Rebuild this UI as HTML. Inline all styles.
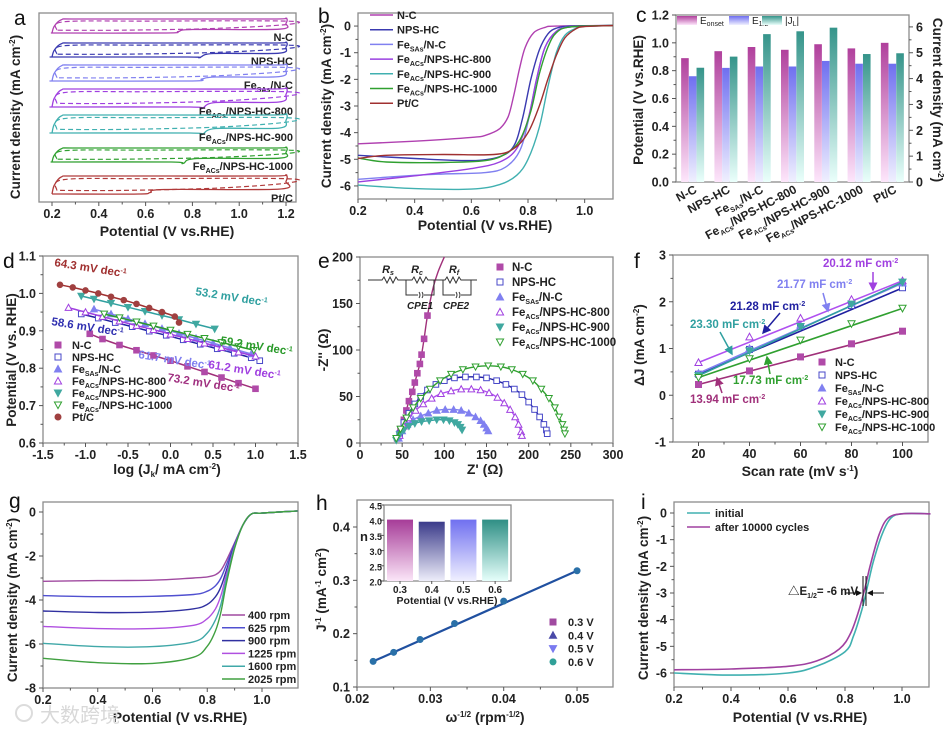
<!DOCTYPE html>
<html><head><meta charset="utf-8"><style>
html,body{margin:0;padding:0;background:#fff;}
svg{display:block;font-family:"Liberation Sans","Noto Sans CJK SC",sans-serif;}
</style></head><body>
<svg id="fig" width="951" height="731" viewBox="0 0 951 731">
<defs>
<linearGradient id="gOn" x1="0" y1="0" x2="0" y2="1"><stop offset="0" stop-color="#b0409c"/><stop offset="1" stop-color="#fde6fb"/></linearGradient>
<linearGradient id="gHalf" x1="0" y1="0" x2="0" y2="1"><stop offset="0" stop-color="#6f6ff0"/><stop offset="1" stop-color="#f0f0ff"/></linearGradient>
<linearGradient id="gJ" x1="0" y1="0" x2="0" y2="1"><stop offset="0" stop-color="#35948a"/><stop offset="1" stop-color="#eafffb"/></linearGradient>
<linearGradient id="gN1" x1="0" y1="0" x2="0" y2="1"><stop offset="0" stop-color="#a63c98"/><stop offset="1" stop-color="#fbe6f8"/></linearGradient>
<linearGradient id="gN2" x1="0" y1="0" x2="0" y2="1"><stop offset="0" stop-color="#3b3b8a"/><stop offset="1" stop-color="#eeeefa"/></linearGradient>
<linearGradient id="gN3" x1="0" y1="0" x2="0" y2="1"><stop offset="0" stop-color="#7070f0"/><stop offset="1" stop-color="#f0f0ff"/></linearGradient>
<linearGradient id="gN4" x1="0" y1="0" x2="0" y2="1"><stop offset="0" stop-color="#2f8f85"/><stop offset="1" stop-color="#e6fffb"/></linearGradient>
<marker id="arr" markerWidth="6" markerHeight="6" refX="5" refY="3" orient="auto"><path d="M0,0 L6,3 L0,6 z" fill="context-stroke"/></marker>
</defs>
</svg>
<script>
// ===== DATA =====
const cvNames=['N-C','NPS-HC','FeSAs/N-C','FeACs/NPS-HC-800','FeACs/NPS-HC-900','FeACs/NPS-HC-1000','Pt/C'];
const cvCenters=[13,37,60,85,111,142,172];
const cvHalf=[7,7,8,9,9,7,9];
const cvDipV=[0.74,0.83,0.84,0.84,0.84,0.76,0.62];
const cvDipDepth=[2,4,2,6,6,5,3];
const cvColors=['#b040b0','#3a3ab0','#8080f0','#a040e0','#40b0b0','#30a030','#b03a3a'];
const bNames=['N-C','NPS-HC','FeSAs/N-C','FeACs/NPS-HC-800','FeACs/NPS-HC-900','FeACs/NPS-HC-1000','Pt/C'];
const bColors=['#b040b0','#3a3ab0','#8080f0','#9a40e0','#40b0b0','#30a030','#a03030'];
const bV=[
[0.2,0.4,0.6,0.65,0.7,0.73,0.75,0.77,0.79,0.82,0.86,0.9,1.1],
[0.2,0.4,0.6,0.7,0.75,0.78,0.81,0.84,0.87,0.9,0.95,1.1],
[0.2,0.4,0.5,0.65,0.72,0.77,0.8,0.83,0.86,0.9,0.95,1.1],
[0.2,0.4,0.6,0.7,0.76,0.8,0.83,0.86,0.9,0.95,1.1],
[0.2,0.4,0.6,0.7,0.76,0.8,0.84,0.87,0.9,0.93,0.97,1.0,1.1],
[0.2,0.3,0.5,0.65,0.72,0.77,0.81,0.84,0.87,0.9,0.95,1.1],
[0.2,0.3,0.5,0.68,0.75,0.8,0.84,0.87,0.9,0.93,0.97,1.0,1.1]];
const bJ=[
[-4.42,-4.32,-4.18,-4.1,-3.85,-3.4,-2.6,-1.6,-0.8,-0.25,-0.05,0,0.02],
[-4.85,-4.97,-5.05,-4.9,-4.5,-3.5,-2.0,-0.9,-0.3,-0.08,0,0.02],
[-5.75,-5.6,-5.55,-5.5,-5.3,-4.7,-3.6,-2.0,-0.8,-0.2,-0.03,0.02],
[-5.85,-5.62,-5.35,-5.1,-4.6,-3.5,-2.0,-0.8,-0.2,-0.03,0.02],
[-5.97,-6.1,-6.12,-5.95,-5.6,-5.0,-3.8,-2.3,-1.0,-0.35,-0.08,-0.01,0.02],
[-4.95,-5.1,-5.12,-5.05,-4.8,-4.3,-3.2,-1.8,-0.8,-0.25,-0.03,0.02],
[-4.97,-4.85,-4.82,-4.82,-4.6,-4.0,-3.0,-2.0,-1.1,-0.45,-0.1,-0.02,0.02]];
const cCats=['N-C','NPS-HC','FeSAs/N-C','FeACs/NPS-HC-800','FeACs/NPS-HC-900','FeACs/NPS-HC-1000','Pt/C'];
const cOnset=[0.89,0.94,0.97,0.95,0.99,0.96,1.00];
const cHalf=[0.76,0.82,0.83,0.83,0.87,0.85,0.85];
const cJL=[4.42,4.85,5.72,5.83,5.97,4.95,4.98];
const dX=[
[-0.95,-0.8,-0.6,-0.4,-0.2,0,0.2,0.4,0.6,0.8,1.0],
[-1.05,-0.85,-0.65,-0.45,-0.25,-0.05,0.15,0.35,0.55,0.75,0.95,1.05],
[-0.9,-0.7,-0.5,-0.3,-0.1,0.1,0.3,0.5,0.7,0.95],
[-1.2,-1.0,-0.8,-0.6,-0.4,-0.2,0,0.2,0.4,0.6,0.8,1.0],
[-1.05,-0.9,-0.7,-0.5,-0.3,-0.1,0.1,0.3,0.52],
[-0.78,-0.6,-0.4,-0.2,0,0.2,0.4,0.6,0.8,0.98],
[-1.3,-1.15,-1.0,-0.85,-0.7,-0.55,-0.4,-0.25,-0.1,0.05,0.1]];
const dY=[
[0.892,0.878,0.862,0.848,0.834,0.820,0.805,0.790,0.775,0.760,0.745],
[0.945,0.934,0.922,0.911,0.899,0.888,0.876,0.864,0.852,0.840,0.828,0.820],
[0.958,0.945,0.932,0.919,0.906,0.893,0.880,0.867,0.854,0.838],
[0.962,0.950,0.938,0.926,0.914,0.903,0.891,0.879,0.867,0.855,0.843,0.832],
[0.993,0.985,0.974,0.963,0.952,0.941,0.930,0.918,0.905],
[0.945,0.935,0.924,0.913,0.902,0.891,0.880,0.869,0.858,0.848],
[1.023,1.016,1.008,1.000,0.991,0.982,0.972,0.961,0.950,0.938,0.922]];
const dMarkers=['sqF','sqO','triF','triO','dtriF','dtriO','circ'];
const dColors=['#b04aa8','#4848c8','#8080f0','#a040e0','#40a8a0','#30a030','#a04040'];
const dLineColors=['#a0307a','#2020a0','#8080f0','#a040e0','#30a0a0','#2a9a2a','#a03030'];
const eX=[
[44,48,52,55,58,62,65,68,71,73,76,80,87,93,100],
[47,52,58,65,72,80,90,100,112,125,138,150,162,173,183,192,200,207,213,218,221,222],
[46,50,56,63,72,81,91,101,111,120,129,137,143,147,150,152],
[47,52,58,66,75,85,96,108,120,132,143,153,163,171,178,184,188,191,192],
[43,47,52,58,65,73,82,91,99,106,112,116,119,121],
[43,48,55,63,72,83,95,108,122,137,152,167,180,193,205,215,224,231,236,240,242,243]];
const eY=[
[5,15,25,35,45,55,65,75,85,95,112,137,168,185,200],
[10,22,32,42,50,57,63,67,70,71,71,70,67,63,58,52,44,36,28,20,14,10],
[5,13,20,25,29,32,35,36,36,35,32,28,24,20,16,13],
[8,18,27,35,42,48,53,56,58,58,57,54,49,43,36,28,20,12,8],
[3,9,14,18,21,23,24,25,25,24,22,20,17,14],
[5,15,27,38,48,58,67,74,79,82,83,82,79,74,67,58,48,38,28,20,14,10]];
const fScan=[20,40,60,80,100];
const fDJ=[
[0.23,0.52,0.82,1.10,1.37],
[0.45,0.98,1.47,1.92,2.30],
[0.47,1.00,1.50,1.97,2.40],
[0.70,1.25,1.65,2.05,2.45],
[0.42,0.95,1.47,1.95,2.42],
[0.38,0.78,1.18,1.53,1.86]];
const fLineColors=['#a0307a','#2020a0','#8080f0','#b050f0','#30a0a0','#30a030'];
const fMarkColors=['#b04aa8','#4848c8','#8080f0','#a040e0','#40a8a0','#30a030'];
const fMarkers=['sqF','sqO','triF','triO','dtriF','dtriO'];
const gRpm=['400 rpm','625 rpm','900 rpm','1225 rpm','1600 rpm','2025 rpm'];
const gColors=['#a04aa0','#5050d0','#3030a0','#b050e0','#40a8a8','#40a040'];
const gV=[0.2,0.4,0.6,0.75,0.8,0.83,0.85,0.87,0.9,0.93,0.96,1.0,1.13];
const gJ=[
[-3.15,-3.12,-3.1,-3.0,-2.95,-2.85,-2.65,-2.2,-1.4,-0.6,-0.1,-0.05,0.05],
[-3.8,-3.85,-3.83,-3.75,-3.6,-3.35,-3.0,-2.4,-1.45,-0.6,-0.1,-0.05,0.05],
[-4.5,-4.57,-4.55,-4.4,-4.2,-3.85,-3.4,-2.65,-1.5,-0.6,-0.1,-0.05,0.05],
[-5.2,-5.3,-5.3,-5.15,-4.85,-4.4,-3.8,-2.85,-1.55,-0.6,-0.1,-0.05,0.05],
[-5.97,-6.12,-6.12,-5.9,-5.5,-4.9,-4.2,-3.05,-1.6,-0.6,-0.1,-0.05,0.05],
[-6.65,-6.85,-6.88,-6.6,-6.1,-5.4,-4.55,-3.25,-1.65,-0.6,-0.1,-0.05,0.05]];
const hW=[0.0222,0.025,0.0286,0.0333,0.04,0.05];
const hJinv=[0.148,0.165,0.189,0.219,0.261,0.318];
const hInsetCats=['0.3','0.4','0.5','0.6'];
const hInsetN=[4.02,3.95,4.02,4.02];
const iV1=[0.2,0.4,0.6,0.7,0.8,0.83,0.86,0.88,0.9,0.93,0.96,1.0,1.1];
const iJ1=[-6.0,-6.08,-6.0,-5.75,-5.2,-4.6,-3.6,-2.7,-1.8,-0.8,-0.2,-0.03,-0.03];
const iV2=[0.2,0.4,0.6,0.7,0.78,0.82,0.85,0.87,0.89,0.92,0.95,1.0,1.1];
const iJ2=[-5.88,-5.85,-5.75,-5.55,-5.1,-4.5,-3.6,-2.8,-1.9,-0.8,-0.2,-0.03,-0.03];

// ===== HELPERS =====
const NS='http://www.w3.org/2000/svg';
const svg=document.getElementById('fig');
function mk(tag,attrs,parent){const e=document.createElementNS(NS,tag);for(const k in attrs)e.setAttribute(k,attrs[k]);(parent||svg).appendChild(e);return e;}
function T(x,y,html,o,parent){o=o||{};const e=mk('text',{x:x,y:y,'font-size':o.s||12,'font-weight':o.w||'bold','text-anchor':o.a||'middle',fill:o.c||'#222'},parent);if(o.r)e.setAttribute('transform','rotate('+o.r+' '+x+' '+y+')');if(o.i)e.setAttribute('font-style','italic');e.innerHTML=html;return e;}
function FE(s,rest){return 'Fe<tspan font-size="7" dy="3">'+s+'</tspan><tspan dy="-3">'+rest+'</tspan>';}
function fmtName(n){if(n.startsWith('FeSAs'))return FE('SAs',n.slice(5));if(n.startsWith('FeACs'))return FE('ACs',n.slice(5));return n;}
const SUPM2='<tspan font-size="8" dy="-5">-2</tspan><tspan dy="5">)</tspan>';
function panel(name,x0,y0,x1,y1,xd,yd){
  const g=mk('g',{});
  
  
  const sx=v=>x0+(v-xd[0])/(xd[1]-xd[0])*(x1-x0);
  const sy=v=>y1-(v-yd[0])/(yd[1]-yd[0])*(y1-y0);
  const f=mk('rect',{x:x0,y:y0,width:x1-x0,height:y1-y0,fill:'none',stroke:'#8c8c8c','stroke-width':1.3},g);
  
  
  return {g,sx,sy,x0,y0,x1,y1};
}
function xticks(P,vals,labs,minor,fs){
  vals.forEach((v,i)=>{const x=P.sx(v);mk('line',{x1:x,x2:x,y1:P.y1,y2:P.y1+4,stroke:'#555'},P.g);
    const t=T(x,P.y1+16,labs[i],{s:fs||12.5},P.g);
    
    });
  if(minor)for(let i=0;i<vals.length-1;i++){const x=(P.sx(vals[i])+P.sx(vals[i+1]))/2;mk('line',{x1:x,x2:x,y1:P.y1,y2:P.y1+2.5,stroke:'#555'},P.g);}
}
function yticks(P,sy,vals,labs,right,minor,fs,gap){
  const xe=right?P.x1:P.x0, d=right?1:-1, gp=gap||7;
  vals.forEach((v,i)=>{const y=sy(v);mk('line',{x1:xe,x2:xe+4*d,y1:y,y2:y,stroke:'#555'},P.g);
    const t=T(xe+gp*d,y+4.5,labs[i],{s:fs||12.5,a:right?'start':'end'},P.g);
    
    });
  if(minor)for(let i=0;i<vals.length-1;i++){const y=(sy(vals[i])+sy(vals[i+1]))/2;mk('line',{x1:xe,x2:xe+2.5*d,y1:y,y2:y,stroke:'#555'},P.g);}
}
function smooth(pts){
  let d='M'+pts[0][0].toFixed(1)+','+pts[0][1].toFixed(1);
  for(let i=0;i<pts.length-1;i++){const p0=pts[i-1]||pts[i],p1=pts[i],p2=pts[i+1],p3=pts[i+2]||p2;
    const c1=[p1[0]+(p2[0]-p0[0])/6,p1[1]+(p2[1]-p0[1])/6],c2=[p2[0]-(p3[0]-p1[0])/6,p2[1]-(p3[1]-p1[1])/6];
    d+=' C'+c1[0].toFixed(1)+','+c1[1].toFixed(1)+' '+c2[0].toFixed(1)+','+c2[1].toFixed(1)+' '+p2[0].toFixed(1)+','+p2[1].toFixed(1);}
  return d;
}
function curve(P,xs,ys,color,w,dash){const pts=xs.map((x,i)=>[P.sx(x),P.sy(ys[i])]);
  const a={d:smooth(pts),fill:'none',stroke:color,'stroke-width':w||1.4};if(dash)a['stroke-dasharray']=dash;return mk('path',a,P.g);}
function marker(parent,x,y,type,color,r){r=r||3;let e;
  const fill=type.endsWith('F')||type==='circ'?color:'#fff';
  if(type.startsWith('sq'))e=mk('rect',{x:x-r,y:y-r,width:2*r,height:2*r,fill:fill,stroke:color,'stroke-width':1},parent);
  else if(type.startsWith('tri'))e=mk('path',{d:'M'+x+','+(y-r*1.2)+' L'+(x+r*1.2)+','+(y+r)+' L'+(x-r*1.2)+','+(y+r)+'Z',fill:fill,stroke:color,'stroke-width':1},parent);
  else if(type.startsWith('dtri'))e=mk('path',{d:'M'+x+','+(y+r*1.2)+' L'+(x+r*1.2)+','+(y-r)+' L'+(x-r*1.2)+','+(y-r)+'Z',fill:fill,stroke:color,'stroke-width':1},parent);
  else e=mk('circle',{cx:x,cy:y,r:r,fill:fill,stroke:color,'stroke-width':1},parent);
  return e;}
function letter(ch,x,y){const t=T(x,y,ch,{s:21,w:'normal',a:'start',c:'#111'});
  
  }
function title(P,x,y,html,rot,fs){const t=T(x,y,html,{s:fs||(rot?13.5:14),r:rot},P.g);
  
  return t;}
const VT=[0.2,0.4,0.6,0.8,1.0,1.2];

// ===== PANEL A =====
{const P=panel('panel-a-cv',39,13,296,202,[0.1444,1.2427],[189,0]);
 xticks(P,VT,['0.2','0.4','0.6','0.8','1.0','1.2'],true);
 cvNames.forEach((n,i)=>{const c=cvCenters[i],h=cvHalf[i],dv=cvDipV[i],dd=cvDipDepth[i];
   const up=[[0.2,c+h],[0.21,c],[0.24,c-0.9*h],[0.3,c-h],[0.7,c-h],[1.15,c-h],[1.2,c-1.1*h]];
   const lo=[[1.2,c-0.4*h],[1.17,c+0.45*h],[dv+0.06,c+0.5*h],[dv,c+0.5*h+dd],[dv-0.05,c+h],[0.25,c+h],[0.2,c+h]];
   const all=up.concat(lo);
   const p=curve(P,all.map(q=>q[0]),all.map(q=>q[1]),cvColors[i],1.3);
   
   
   const du=[[0.22,c+0.6*h],[0.25,c-0.6*h],[0.6,c-0.7*h],[1.2,c-0.7*h],[1.2,c-0.2*h],[0.9,c+0.35*h],[0.5,c+0.6*h],[0.22,c+0.6*h]];
   const q=curve(P,du.map(z=>z[0]),du.map(z=>z[1]),cvColors[i],1.2,'5,3');
   
   
   const t=T(293,13+c+h+8,fmtName(n),{s:11,a:'end'},P.g);
   
   });
 title(P,167,236,'Potential (V vs.RHE)');
 title(P,20,117,'Current density (mA cm'+SUPM2,-90);
 letter('a',14,25);}

// ===== PANEL B =====
{const P=panel('panel-b-lsv',358,13,613,199,[0.2,1.1],[-6.49,0.49]);
 xticks(P,[0.2,0.4,0.6,0.8,1.0],['0.2','0.4','0.6','0.8','1.0'],true);
 yticks(P,P.sy,[0,-1,-2,-3,-4,-5,-6],['0','-1','-2','-3','-4','-5','-6'],false,true);
 bNames.forEach((n,i)=>{const p=curve(P,bV[i],bJ[i],bColors[i],1.4);
   
   
   const y=15+14.7*i;
   const l=mk('line',{x1:370,x2:393,y1:y,y2:y,stroke:bColors[i],'stroke-width':1.5},P.g);
   
   
   const t=T(397,y+4,fmtName(n),{s:11,a:'start'},P.g);
   
   });
 title(P,485,230,'Potential (V vs.RHE)');
 title(P,331,106,'Current density (mA cm'+SUPM2,-90);
 letter('b',318,23);}

// ===== PANEL C =====
{const P=panel('panel-c-bars',676,15,909,182,[0,7],[0,1.2]);
 const syR=v=>182-v/6.46*167;
 yticks(P,P.sy,[0,0.2,0.4,0.6,0.8,1.0,1.2],['0.0','0.2','0.4','0.6','0.8','1.0','1.2'],false,true);
 yticks(P,syR,[0,1,2,3,4,5,6],['0','1','2','3','4','5','6'],true,true);
 cCats.forEach((n,i)=>{const cx=P.sx(i+0.5);
   const b1=mk('rect',{x:cx-11.5,y:P.sy(cOnset[i]),width:7.6,height:182-P.sy(cOnset[i]),fill:'url(#gOn)'},P.g);
   
   
   const b2=mk('rect',{x:cx-3.8,y:P.sy(cHalf[i]),width:7.6,height:182-P.sy(cHalf[i]),fill:'url(#gHalf)'},P.g);
   
   
   const b3=mk('rect',{x:cx+3.9,y:syR(cJL[i]),width:7.6,height:182-syR(cJL[i]),fill:'url(#gJ)'},P.g);
   
   
   const t=T(cx+5,192,fmtName(n),{s:12,a:'end',r:-28},P.g);
   
   });
 const lg=[['url(#gOn)',677,'E<tspan font-size="7" dy="2">onset</tspan>'],['url(#gHalf)',729,'E<tspan font-size="7" dy="2">1/2</tspan>'],['url(#gJ)',762,'|J<tspan font-size="7" dy="2">L</tspan><tspan dy="-2">|</tspan>']];
 lg.forEach(q=>{const r=mk('rect',{x:q[1],y:16,width:20,height:9,fill:q[0]},P.g);
   
   
   const t=T(q[1]+23,24,q[2],{s:10,a:'start',w:'normal'},P.g);
   
   });
 title(P,643,100,'Potential (V vs.RHE)',-90);
 title(P,933,100,'Current density (mA cm'+SUPM2,90);
 letter('c',636,22);}

// ===== PANEL D =====
{const P=panel('panel-d-tafel',43,256,298,443,[-1.5,1.5],[0.6,1.1]);
 xticks(P,[-1.5,-1,-0.5,0,0.5,1,1.5],['-1.5','-1.0','-0.5','0.0','0.5','1.0','1.5'],true);
 yticks(P,P.sy,[0.6,0.7,0.8,0.9,1.0,1.1],['0.6','0.7','0.8','0.9','1.0','1.1'],false,true);
 const names=['N-C','NPS-HC','FeSAs/N-C','FeACs/NPS-HC-800','FeACs/NPS-HC-900','FeACs/NPS-HC-1000','Pt/C'];
 dX.forEach((xs,i)=>{const p=curve(P,xs,dY[i],dLineColors[i],1.5);
   
   
   xs.forEach((x,k)=>{const m=marker(P.g,P.sx(x),P.sy(dY[i][k]),dMarkers[i],dColors[i],2.8);
     
     });
   const y=345+12*i;
   const lm=marker(P.g,58,y,dMarkers[i],dColors[i],3);
   
   
   const t=T(72,y+4,fmtName(names[i]),{s:11,a:'start'},P.g);
   
   });
 const ann=[['64.3',54,266,'#a03030'],['53.2',195,295,'#30a0a0'],['59.2',220,344,'#2a9a2a'],['58.6',51,325,'#3030b0'],['61.7',138,358,'#8080f0'],['61.2',208,368,'#a040e0'],['73.2',167,381,'#a03080']];
 ann.forEach(a=>{const t=T(a[1],a[2],a[0]+' mV dec<tspan font-size="7" dy="-4">-1</tspan>',{s:11.5,a:'start',c:a[3],r:9},P.g);
   
   });
 title(P,167,474,'log (J<tspan font-size="8" dy="3">k</tspan><tspan dy="-3">/ mA cm</tspan><tspan font-size="8" dy="-5">-2</tspan><tspan dy="5">)</tspan>');
 title(P,16,360,'Potential (V vs. RHE)',-90);
 letter('d',3,268);}

// ===== PANEL E =====
{const P=panel('panel-e-nyquist',360,257,613,443,[0,300],[0,200]);
 xticks(P,[0,50,100,150,200,250,300],['0','50','100','150','200','250','300'],true);
 yticks(P,P.sy,[0,50,100,150,200],['0','50','100','150','200'],false,true);
 const names=['N-C','NPS-HC','FeSAs/N-C','FeACs/NPS-HC-800','FeACs/NPS-HC-900','FeACs/NPS-HC-1000'];
 eX.forEach((xs,i)=>{const p=curve(P,xs,eY[i],fLineColors[i],1.4);
   
   
   xs.forEach((x,k)=>{if(i===0&&k>=12)return;const m=marker(P.g,P.sx(x),P.sy(eY[i][k]),fMarkers[i],fMarkColors[i],2.8);
     
     });
   const y=267+15*i;
   const lm=marker(P.g,500,y,fMarkers[i],fMarkColors[i],3);
   
   
   const t=T(512,y+4,fmtName(names[i]),{s:11.5,a:'start'},P.g);
   
   });
 const cg=mk('g',{stroke:'#333','stroke-width':1,fill:'none'},P.g);
 
 
 mk('path',{d:'M368,280 L382,280 l2,-3 l3,6 l3,-6 l3,6 l3,-6 l2,3 L412,280 l2,-3 l3,6 l3,-6 l3,6 l3,-6 l2,3 L445,280 l2,-3 l3,6 l3,-6 l3,6 l3,-6 l2,3 L477,280'},cg);
 mk('path',{d:'M406,280 L406,295 L418,295 M424,295 L434,295 L434,280 M443,280 L443,295 L455,295 M461,295 L471,295 L471,280'},cg);
 mk('path',{d:'M419,292 q2,3 0,6 M422,292 q2,3 0,6 M456,292 q2,3 0,6 M459,292 q2,3 0,6'},cg);
 [['R<tspan font-size="7" dy="2">s</tspan>',388],['R<tspan font-size="7" dy="2">c</tspan>',417],['R<tspan font-size="7" dy="2">f</tspan>',454]].forEach(q=>{const t=T(q[1],273,q[0],{s:11,i:true},P.g);
   
   });
 [['CPE1',420],['CPE2',456]].forEach(q=>{const t=T(q[1],309,q[0],{s:10,i:true},P.g);
   
   });
 title(P,485,474,"Z' (Ω)");
 title(P,328,350,"-Z'' (Ω)",-90);
 letter('e',318,268);}

// ===== PANEL F =====
{const P=panel('panel-f-cdl',673,255,928,442,[10,110],[-1,3]);
 xticks(P,[20,40,60,80,100],['20','40','60','80','100'],true);
 yticks(P,P.sy,[-1,0,1,2,3],['-1','0','1','2','3'],false,true);
 const names=['N-C','NPS-HC','FeSAs/N-C','FeACs/NPS-HC-800','FeACs/NPS-HC-900','FeACs/NPS-HC-1000'];
 fDJ.forEach((ys,i)=>{const p=mk('line',{x1:P.sx(20),y1:P.sy(ys[0]),x2:P.sx(101),y2:P.sy(ys[4]+(ys[4]-ys[3])/20),stroke:fLineColors[i],'stroke-width':1.6},P.g);
   
   
   fScan.forEach((s,k)=>{const m=marker(P.g,P.sx(s),P.sy(ys[k]),fMarkers[i],fMarkColors[i],3);
     
     });
   const y=362+13*i;
   const lm=marker(P.g,822,y,fMarkers[i],fMarkColors[i],3);
   
   
   const t=T(835,y+4,fmtName(names[i]),{s:11,a:'start'},P.g);
   
   });
 const ann=[['20.12',823,267,'#a040e0',873,272,873,290],['21.77',777,288,'#8080f0',823,293,828,311],['21.28',730,310,'#2020a0',780,313,763,333],['23.30',690,328,'#30a0a0',720,332,732,354],['17.73',733,384,'#30a030',770,374,767,357],['13.94',690,403,'#a0307a',722,393,717,378]];
 ann.forEach(a=>{const t=T(a[1],a[2],a[0]+' mF cm<tspan font-size="7" dy="-4">-2</tspan>',{s:11.5,a:'start',c:a[3]},P.g);
   
   
   const l=mk('line',{x1:a[4],y1:a[5],x2:a[6],y2:a[7],stroke:a[3],'stroke-width':1.5,'marker-end':'url(#arr)'},P.g);
   
   });
 title(P,800,476,'Scan rate (mV s<tspan font-size="8" dy="-5">-1</tspan><tspan dy="5">)</tspan>');
 title(P,644,345,'ΔJ (mA cm'+SUPM2,-90);
 letter('f',634,268);}

// ===== PANEL G =====
{const P=panel('panel-g-rpm',43,502,298,688,[0.2,1.1315],[-8,0.4545]);
 xticks(P,[0.2,0.4,0.6,0.8,1.0],['0.2','0.4','0.6','0.8','1.0'],true);
 yticks(P,P.sy,[0,-2,-4,-6,-8],['0','-2','-4','-6','-8'],false,true);
 gJ.forEach((ys,i)=>{const p=curve(P,gV,ys,gColors[i],1.4);
   
   
   const y=615+12.8*i;
   const l=mk('line',{x1:222,x2:245,y1:y,y2:y,stroke:gColors[i],'stroke-width':1.5},P.g);
   
   
   const t=T(248,y+4,gRpm[i],{s:11,a:'start'},P.g);
   
   });
 const wm=T(40,722,'大数跨境',{s:20,a:'start',c:'#d8d8d8',w:'normal'});
 
 
 const wc=mk('circle',{cx:24,cy:713,r:8,fill:'none',stroke:'#dcdcdc','stroke-width':2});
 
 
 title(P,180,722,'Potential (V vs.RHE)');
 title(P,17,600,'Current density (mA cm'+SUPM2,-90);
 letter('g',9,508);}

// ===== PANEL H =====
{const P=panel('panel-h-kl',357,500,613,687,[0.02,0.0549],[0.1,0.4506]);
 xticks(P,[0.02,0.03,0.04,0.05],['0.02','0.03','0.04','0.05'],true);
 yticks(P,P.sy,[0.1,0.2,0.3,0.4],['0.1','0.2','0.3','0.4'],false,true);
 const p=mk('line',{x1:P.sx(hW[0]),y1:P.sy(hJinv[0]),x2:P.sx(hW[5]),y2:P.sy(hJinv[5]),stroke:'#2050a0','stroke-width':2.2},P.g);
 
 
 const mt=['sqF','triF','dtriF','circ'];
 hW.forEach((w,k)=>{const m=marker(P.g,P.sx(w),P.sy(hJinv[k]),'circ','#2a70a8',3);
   
   });
 ['0.3 V','0.4 V','0.5 V','0.6 V'].forEach((s,i)=>{const y=622+13.3*i;
   const lm=marker(P.g,553,y,mt[i],['#a04aa0','#4a4aa8','#7a7af0','#30a098'][i],3);
   
   
   const t=T(568,y+4,s,{s:11,a:'start'},P.g);
   
   });
 const I=panel('panel-h-inset',384,505,511,581,[-0.505,3.5],[2.0,4.5]);
 yticks(I,I.sy,[2.0,2.5,3.0,3.5,4.0,4.5],['2.0','2.5','3.0','3.5','4.0','4.5'],false,false,9,2);
 hInsetCats.forEach((c,i)=>{const cx=I.sx(i);
   const b=mk('rect',{x:cx-13,y:I.sy(hInsetN[i]),width:26,height:581-I.sy(hInsetN[i]),fill:'url(#gN'+(i+1)+')'},I.g);
   
   
   mk('line',{x1:cx,x2:cx,y1:581,y2:584,stroke:'#555'},I.g);
   const t=T(cx,593,c,{s:10},I.g);
   
   });
 const nt=T(364,541,'n',{s:13},I.g);
 
 
 const it=T(447,604,'Potential (V vs.RHE)',{s:10.5},I.g);
 
 
 title(P,485,722,'ω<tspan font-size="8" dy="-5">-1/2</tspan><tspan dy="5"> (rpm</tspan><tspan font-size="8" dy="-5">-1/2</tspan><tspan dy="5">)</tspan>');
 title(P,326,590,'J<tspan font-size="8" dy="-5">-1</tspan><tspan dy="5"> (mA</tspan><tspan font-size="8" dy="-5">-1</tspan><tspan dy="5"> cm</tspan><tspan font-size="8" dy="-5">2</tspan><tspan dy="5">)</tspan>',-90);
 letter('h',316,510);}

// ===== PANEL I =====
{const P=panel('panel-i-stability',674,502,929,687,[0.2,1.0947],[-6.525,0.4125]);
 xticks(P,[0.2,0.4,0.6,0.8,1.0],['0.2','0.4','0.6','0.8','1.0'],true);
 yticks(P,P.sy,[0,-1,-2,-3,-4,-5,-6],['0','-1','-2','-3','-4','-5','-6'],false,true);
 const a=curve(P,iV1,iJ1,'#40b0b0',1.6);
 
 
 const b=curve(P,iV2,iJ2,'#a040a0',1.6);
 
 
 [['initial','#40b0b0',513],['after 10000 cycles','#a040a0',527]].forEach(q=>{
   const l=mk('line',{x1:687,x2:710,y1:q[2],y2:q[2],stroke:q[1],'stroke-width':1.6},P.g);
   
   
   const t=T(715,q[2]+4,q[0],{s:11,a:'start'},P.g);
   
   });
 const at=T(788,595,'△E<tspan font-size="7" dy="3">1/2</tspan><tspan dy="-3">= -6 mV</tspan>',{s:11.5,a:'start'},P.g);
 
 
 mk('line',{x1:863,x2:863,y1:576,y2:606,stroke:'#111','stroke-width':1},P.g);
 mk('line',{x1:866,x2:866,y1:576,y2:606,stroke:'#111','stroke-width':1},P.g);
 mk('line',{x1:845,x2:861,y1:593,y2:593,stroke:'#111','stroke-width':1,'marker-end':'url(#arr)'},P.g);
 mk('line',{x1:884,x2:868,y1:593,y2:593,stroke:'#111','stroke-width':1,'marker-end':'url(#arr)'},P.g);
 title(P,800,722,'Potential (V vs.RHE)');
 title(P,648,598,'Current density (mA cm'+SUPM2,-90);
 letter('i',641,509);}
</script>
</body></html>
